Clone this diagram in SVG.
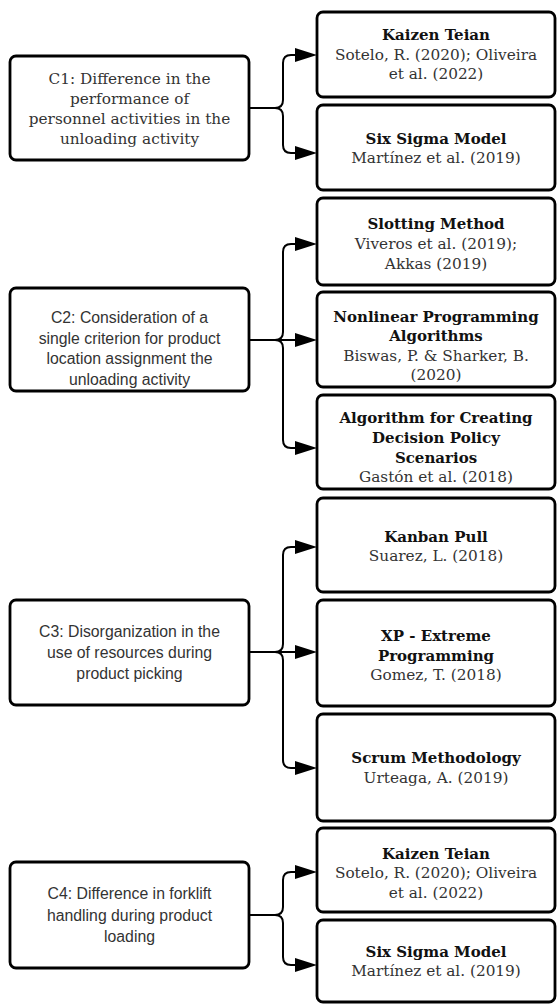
<svg xmlns="http://www.w3.org/2000/svg" width="557" height="1006" viewBox="0 0 557 1006">
<style>
.box{fill:#fff;stroke:#000;stroke-width:2.8}
.ser{font-family:"DejaVu Serif","Liberation Serif",serif;font-size:15.3px;fill:#333;text-anchor:middle;dominant-baseline:central}
.b{font-weight:bold;fill:#111;font-size:15px}
.sans{font-family:"Liberation Sans",Arial,sans-serif;font-size:15.8px;fill:#333;text-anchor:middle;dominant-baseline:central}
.ln{fill:none;stroke:#000;stroke-width:2}
.ah{fill:#000}
</style>
<rect width="557" height="1006" fill="#fff"/>
<g id="connectors">
<path class="ln" d="M250,108 H275 Q283,108 283,100 V63 Q283,55 291,55 H300"/>
<path class="ln" d="M275,108 Q283,108 283,116 V145 Q283,153 291,153 H300"/>
<polygon class="ah" points="295,48 317,55 295,62"/>
<polygon class="ah" points="295,146 317,153 295,160"/>

<path class="ln" d="M250,340 H300"/>
<path class="ln" d="M275,340 Q283,340 283,332 V252 Q283,244 291,244 H300"/>
<path class="ln" d="M275,340 Q283,340 283,348 V440 Q283,448 291,448 H300"/>
<polygon class="ah" points="295,237 317,244 295,251"/>
<polygon class="ah" points="295,333 317,340 295,347"/>
<polygon class="ah" points="295,441 317,448 295,455"/>

<path class="ln" d="M250,652 H300"/>
<path class="ln" d="M275,652 Q283,652 283,644 V555 Q283,547 291,547 H300"/>
<path class="ln" d="M275,652 Q283,652 283,660 V760 Q283,768 291,768 H300"/>
<polygon class="ah" points="295,540 317,547 295,554"/>
<polygon class="ah" points="295,645 317,652 295,659"/>
<polygon class="ah" points="295,761 317,768 295,775"/>

<path class="ln" d="M250,915 H275 Q283,915 283,907 V880 Q283,872 291,872 H300"/>
<path class="ln" d="M275,915 Q283,915 283,923 V957 Q283,965 291,965 H300"/>
<polygon class="ah" points="295,865 317,872 295,879"/>
<polygon class="ah" points="295,958 317,965 295,972"/>
</g>

<g id="c1">
<rect class="box" x="10" y="56" width="239" height="104" rx="6"/>
<text class="ser" x="129.5" y="79">C1: Difference in the</text>
<text class="ser" x="129.5" y="99">performance of</text>
<text class="ser" x="129.5" y="119">personnel activities in the</text>
<text class="ser" x="129.5" y="139">unloading activity</text>
</g>
<g id="kaizen1">
<rect class="box" x="317" y="12" width="238" height="85" rx="6"/>
<text class="ser b" x="436" y="35">Kaizen Teian</text>
<text class="ser" x="436" y="55">Sotelo, R. (2020); Oliveira</text>
<text class="ser" x="436" y="74">et al. (2022)</text>
</g>
<g id="sixsigma1">
<rect class="box" x="317" y="105" width="238" height="85" rx="6"/>
<text class="ser b" x="436" y="139">Six Sigma Model</text>
<text class="ser" x="436" y="158">Martínez et al. (2019)</text>
</g>

<g id="c2">
<rect class="box" x="10" y="288" width="239" height="103" rx="6"/>
<text class="sans" x="129.5" y="317">C2: Consideration of a</text>
<text class="sans" x="129.5" y="338">single criterion for product</text>
<text class="sans" x="129.5" y="358">location assignment the</text>
<text class="sans" x="129.5" y="379">unloading activity</text>
</g>
<g id="slotting">
<rect class="box" x="317" y="198" width="238" height="87" rx="6"/>
<text class="ser b" x="436" y="224">Slotting Method</text>
<text class="ser" x="436" y="244">Viveros et al. (2019);</text>
<text class="ser" x="436" y="264">Akkas (2019)</text>
</g>
<g id="nonlinear">
<rect class="box" x="317" y="292" width="238" height="95" rx="6"/>
<text class="ser b" x="436" y="317">Nonlinear Programming</text>
<text class="ser b" x="436" y="336">Algorithms</text>
<text class="ser" x="436" y="356">Biswas, P. &amp; Sharker, B.</text>
<text class="ser" x="436" y="375">(2020)</text>
</g>
<g id="algorithm">
<rect class="box" x="317" y="395" width="238" height="94" rx="6"/>
<text class="ser b" x="436" y="418">Algorithm for Creating</text>
<text class="ser b" x="436" y="438">Decision Policy</text>
<text class="ser b" x="436" y="458">Scenarios</text>
<text class="ser" x="436" y="477">Gastón et al. (2018)</text>
</g>

<g id="c3">
<rect class="box" x="10" y="600" width="239" height="105" rx="6"/>
<text class="sans" x="129.5" y="631">C3: Disorganization in the</text>
<text class="sans" x="129.5" y="652">use of resources during</text>
<text class="sans" x="129.5" y="673">product picking</text>
</g>
<g id="kanban">
<rect class="box" x="317" y="498" width="238" height="94" rx="6"/>
<text class="ser b" x="436" y="537">Kanban Pull</text>
<text class="ser" x="436" y="556">Suarez, L. (2018)</text>
</g>
<g id="xp">
<rect class="box" x="317" y="600" width="238" height="106" rx="6"/>
<text class="ser b" x="436" y="636">XP - Extreme</text>
<text class="ser b" x="436" y="656">Programming</text>
<text class="ser" x="436" y="675">Gomez, T. (2018)</text>
</g>
<g id="scrum">
<rect class="box" x="317" y="714" width="238" height="107" rx="6"/>
<text class="ser b" x="436" y="758">Scrum Methodology</text>
<text class="ser" x="436" y="778">Urteaga, A. (2019)</text>
</g>

<g id="c4">
<rect class="box" x="10" y="862" width="239" height="106" rx="6"/>
<text class="sans" x="129.5" y="893">C4: Difference in forklift</text>
<text class="sans" x="129.5" y="915">handling during product</text>
<text class="sans" x="129.5" y="936">loading</text>
</g>
<g id="kaizen2">
<rect class="box" x="317" y="828" width="238" height="84" rx="6"/>
<text class="ser b" x="436" y="854">Kaizen Teian</text>
<text class="ser" x="436" y="873">Sotelo, R. (2020); Oliveira</text>
<text class="ser" x="436" y="893">et al. (2022)</text>
</g>
<g id="sixsigma2">
<rect class="box" x="317" y="920" width="238" height="82" rx="6"/>
<text class="ser b" x="436" y="952">Six Sigma Model</text>
<text class="ser" x="436" y="971">Martínez et al. (2019)</text>
</g>
</svg>
